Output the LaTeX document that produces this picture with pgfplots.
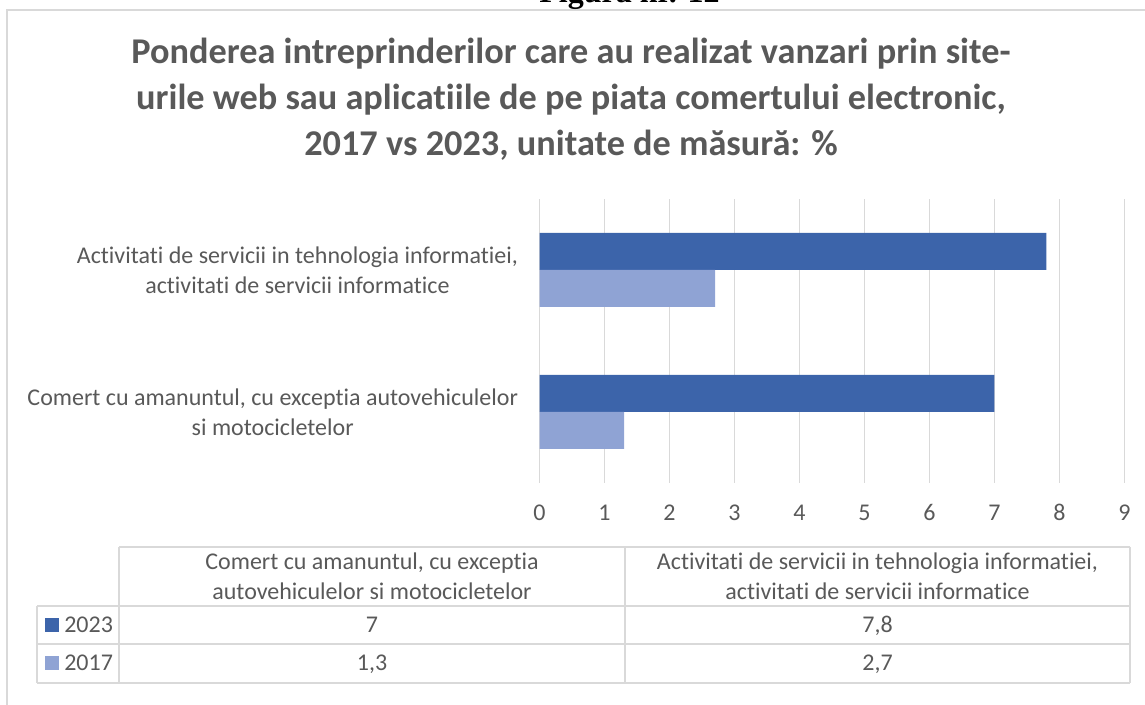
\documentclass[border=0pt]{standalone}
\usepackage{pgfplots}
\usepackage{pgfplotstable}
\pgfplotsset{compat=1.18}
\usepackage{fontspec}
\setmainfont{Carlito}[Ligatures={NoCommon}]
\newfontfamily\capfont{Liberation Serif}
\definecolor{c2023}{RGB}{60,100,170}
\definecolor{c2017}{RGB}{143,163,212}
\definecolor{txt}{RGB}{89,89,89}
\definecolor{grd}{RGB}{217,217,217}
\pgfkeys{/pgf/number format/assume math mode=true}

% cat: 0 = Comert..., 1 = Activitati...
\pgfplotstableread{
cat y2023 y2017
0 7 1.3
1 7.8 2.7
}\datatable

\newcommand\cell[2]{\pgfplotstablegetelem{#1}{#2}\of\datatable\pgfmathprintnumber[use comma]{\pgfplotsretval}}

\begin{document}
\begin{tikzpicture}[x=0.75pt,y=0.75pt]
\useasboundingbox (0,0) rectangle (1145,705);
\clip (0,0) rectangle (1145,705);
% chart frame
\draw[grd,line width=1.1pt] (7,-20) -- (7,695) -- (1170,695);
% caption, cut by the page top
\node[anchor=base,inner sep=0,font=\capfont\fontsize{24}{28}\selectfont\bfseries] at (629.5,702) {Figura nr. 12};
% title
\begin{scope}[every node/.style={anchor=base,inner sep=0,text=txt,font=\fontsize{27.2}{33}\selectfont\bfseries}]
\node at (571,641) {Ponderea intreprinderilor care au realizat vanzari prin site-};
\node at (571,595) {urile web sau aplicatiile de pe piata comertului electronic,};
\node at (571,549) {2017 vs 2023, unitate de măsură: \%};
\end{scope}

\coordinate (SW) at (539.5,222);
\begin{axis}[
  at={(SW)}, anchor=south west,
  scale only axis, width=438.75pt, height=213pt,
  xbar, bar width=27.75pt,
  xmin=0, xmax=9, ymin=-0.5, ymax=1.5,
  xtick={0,...,9}, ytick={0,1},
  yticklabels={{Comert cu amanuntul, cu exceptia autovehiculelor\\si motocicletelor},
               {Activitati de servicii in tehnologia informatiei,\\activitati de servicii informatice}},
  axis line style={draw=none}, tick style={draw=none},
  xmajorgrids, major grid style={grd,line width=1.1pt},
  xticklabel style={anchor=base,inner sep=0,yshift=-28.1pt,text=txt,font=\fontsize{18}{22}\selectfont},
  yticklabel style={anchor=east,inner sep=0,xshift=-11.7pt,align=center,text=txt,font=\fontsize{18}{22.5}\selectfont},
  clip=false,
]
\addplot[fill=c2023,draw=none,bar shift=13.875pt] table[x=y2023,y=cat] {\datatable};
\addplot[fill=c2017,draw=none,bar shift=-13.875pt] table[x=y2017,y=cat] {\datatable};
\end{axis}

% data table
\begin{scope}[grd,line width=1.1pt]
\draw (119,158) -- (1130,158);
\draw (37,99) -- (1130,99);
\draw (37,61) -- (1130,61);
\draw (37,22) -- (1130,22);
\draw (37,99) -- (37,22);
\draw (119,158) -- (119,22);
\draw (625,158) -- (625,22);
\draw (1130,158) -- (1130,22);
\end{scope}
\begin{scope}[every node/.style={anchor=base,inner sep=0,text=txt,font=\fontsize{18}{22}\selectfont}]
\node at (372,135) {Comert cu amanuntul, cu exceptia};
\node at (372,105) {autovehiculelor si motocicletelor};
\node at (877.5,135) {Activitati de servicii in tehnologia informatiei,};
\node at (877.5,105) {activitati de servicii informatice};
\node at (372,72.5) {\cell{0}{y2023}};
\node at (877.5,72.5) {\cell{1}{y2023}};
\node at (372,34.5) {\cell{0}{y2017}};
\node at (877.5,34.5) {\cell{1}{y2017}};
\node[anchor=base west] at (64,72.5) {2023};
\node[anchor=base west] at (64,34.5) {2017};
\end{scope}
\fill[c2023] (45,73) rectangle (59,87);
\fill[c2017] (45,35) rectangle (59,49);
\end{tikzpicture}
\end{document}
